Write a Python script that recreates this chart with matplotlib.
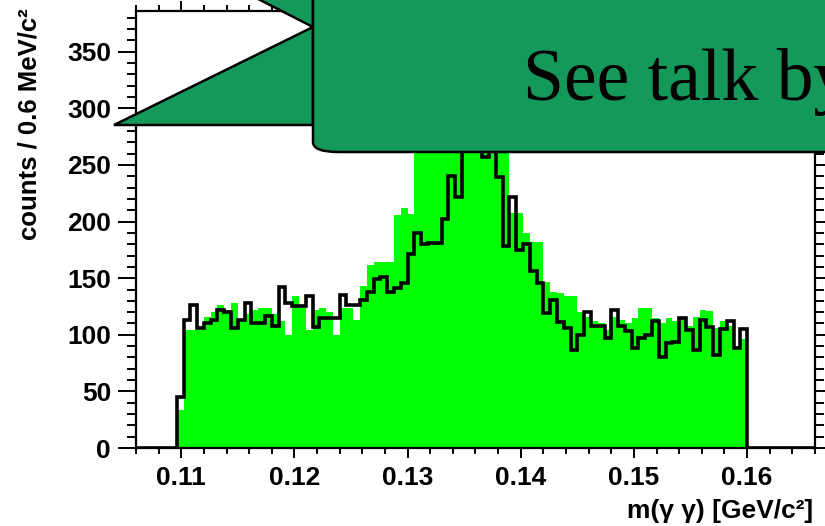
import numpy as np
import matplotlib.pyplot as plt
from matplotlib.patches import Polygon, PathPatch
from matplotlib.path import Path

# -------------------
# data: m(gamma gamma) histograms, 0.6 MeV bins
# -------------------
bin_lo = 0.1096
bin_w = 0.0006

green_counts = [34, 104, 104, 108, 116, 120, 126, 122, 128, 112,
                118, 122, 124, 124, 118, 112, 100, 134, 124, 104,
                122, 124, 120, 100, 124, 124, 113, 143, 162, 164,
                164, 164, 206, 212, 207, 280, 300, 320, 340, 370,
                390, 400, 395, 390, 370, 350, 330, 300, 275, 208,
                208, 190, 182, 182, 147, 138, 137, 134, 134, 120,
                116, 112, 110, 104, 116, 113, 110, 115, 124, 124,
                115, 110, 115, 112, 115, 108, 116, 122, 121, 106,
                112, 108, 90, 96]

black_counts = [45, 113, 126, 106, 110, 113, 122, 120, 106, 113,
                128, 110, 110, 117, 108, 142, 128, 125, 125, 134,
                107, 115, 115, 115, 135, 126, 126, 131, 138, 149,
                151, 138, 141, 146, 171, 190, 180, 181, 181, 202,
                240, 222, 285, 300, 290, 257, 290, 239, 178, 222,
                175, 180, 156, 146, 119, 131, 111, 106, 87, 100,
                120, 108, 108, 97, 122, 108, 103, 88, 97, 100,
                112, 80, 93, 94, 115, 104, 87, 113, 107, 82,
                105, 112, 88, 105]

x_ticks = [0.11, 0.12, 0.13, 0.14, 0.15, 0.16]
x_ticklabels = ['0.11', '0.12', '0.13', '0.14', '0.15', '0.16']
y_ticks = [0, 50, 100, 150, 200, 250, 300, 350]

x_range = (0.106, 0.166)
y_range = (0, 386)

callout_text = 'See talk by'
xlabel = 'm(\u03b3 \u03b3) [GeV/c\u00b2]'
ylabel = 'counts / 0.6 MeV/c\u00b2'

# -------------------
# figure
# -------------------
plt.rcParams['font.family'] = ['Liberation Sans', 'DejaVu Sans']
plt.rcParams['font.weight'] = 'bold'

W, H = 825, 526
fig = plt.figure(figsize=(W / 100, H / 100), dpi=100)
ax = fig.add_axes([136 / W, 1 - 448 / H, (815 - 136) / W, (448 - 11) / H])

edges = bin_lo + bin_w * np.arange(len(green_counts) + 1)
ax.stairs(green_counts, edges, fill=True, color='#00ff00', lw=0)
# black outline, extended along zero over the whole axis
ax.stairs(np.r_[0, black_counts, 0], np.r_[x_range[0], edges, x_range[1]],
          color='black', lw=2.6)

ax.set_xlim(*x_range)
ax.set_ylim(*y_range)
ax.set_xticks(x_ticks)
ax.set_xticklabels(x_ticklabels)
ax.set_yticks(y_ticks)
ax.set_xticks(np.arange(0.106, 0.1661, 0.002), minor=True)
ax.set_yticks(np.arange(0, 386, 10), minor=True)

ax.tick_params(which='both', direction='out', top=True, right=True,
               width=1.4, labelsize=19)
ax.tick_params(axis='x', which='major', length=7, pad=6)
ax.tick_params(axis='x', which='minor', length=4)
ax.tick_params(axis='y', which='major', length=13, pad=5)
ax.tick_params(axis='y', which='minor', length=6.5)
for s in ax.spines.values():
    s.set_linewidth(1.6)

fig.text(813 / W, 1 - 518 / H, xlabel, ha='right', va='baseline',
         fontsize=19, fontweight='bold')
fig.text(30 / W, 1 - 8 / H, ylabel, rotation=90, ha='center', va='top',
         fontsize=18.5, fontweight='bold')


# -------------------
# callout box drawn over the plot (pixel coords from top-left)
# -------------------
def px(x, y):
    return (x / W, 1 - y / H)


box_green = '#14995a'
upper_wedge = Polygon([px(313, 27), px(221, -20), px(313, -20)],
                      closed=True, facecolor=box_green, edgecolor='black',
                      lw=1.8, transform=fig.transFigure)
lower_wedge = Polygon([px(313, 27), px(114, 125), px(313, 125)],
                      closed=True, facecolor=box_green, edgecolor='black',
                      lw=1.8, transform=fig.transFigure)
box_path = Path([px(313, -10), px(313, 142), px(313, 152), px(338, 152),
                 px(840, 152), px(840, -10), px(313, -10)],
                [Path.MOVETO, Path.LINETO, Path.CURVE3, Path.CURVE3,
                 Path.LINETO, Path.LINETO, Path.CLOSEPOLY])
box = PathPatch(box_path, facecolor=box_green, edgecolor='black', lw=1.8,
                transform=fig.transFigure)
for p in (upper_wedge, lower_wedge, box):
    fig.add_artist(p)

fig.text(523 / W, 1 - 100 / H, callout_text, ha='left', va='baseline',
         fontsize=53, fontweight='normal', color='black',
         family='Liberation Serif')

fig.savefig('out.png', dpi=100)
